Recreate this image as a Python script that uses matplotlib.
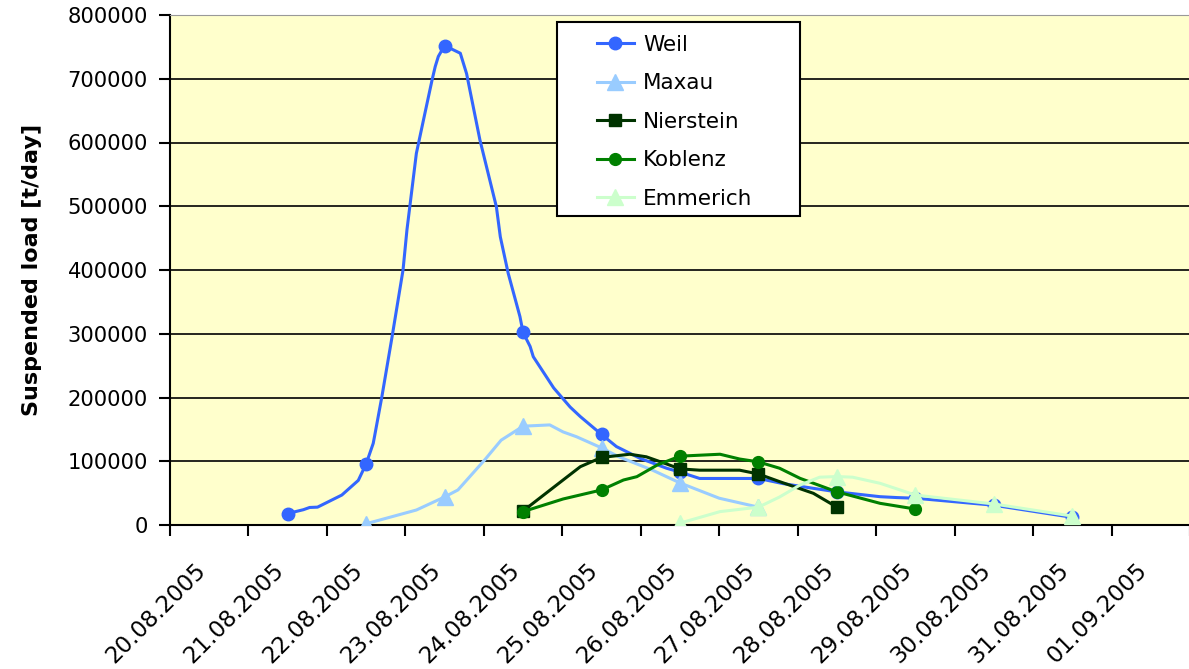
import matplotlib
matplotlib.use("Agg")
import matplotlib.pyplot as plt
from matplotlib.patches import Rectangle
from matplotlib.ticker import FuncFormatter
from matplotlib.transforms import ScaledTranslation

plt.rcParams.update({
    "font.family": ["DejaVu Sans"],
    "font.size": 14,
})

# category labels (one per day)
dates = ["20.08.2005", "21.08.2005", "22.08.2005", "23.08.2005", "24.08.2005",
         "25.08.2005", "26.08.2005", "27.08.2005", "28.08.2005", "29.08.2005",
         "30.08.2005", "31.08.2005", "01.09.2005"]

# day position (0 = 20.08.) and suspended load [t/day]
weil_x = [1.0, 1.2, 1.28, 1.38, 1.69, 1.9, 2.0, 2.09, 2.11, 2.2, 2.33, 2.47, 2.52,
          2.64, 2.73, 2.84, 2.88, 2.92, 3.0, 3.2, 3.28, 3.45, 3.66, 3.71, 3.81,
          3.96, 4.0, 4.09, 4.13, 4.39, 4.6, 4.73, 5.0, 5.19, 5.49, 5.83, 6.0,
          6.25, 7.0, 7.31, 7.7, 8.0, 8.55, 8.77, 9.0, 10.0, 11.0]
weil_y = [18000, 24000, 27500, 28000, 47000, 70000, 96000, 128000, 141000, 201000,
          295000, 400000, 463000, 583000, 635000, 698000, 719000, 735000, 752000,
          740000, 708000, 604000, 499000, 452000, 395000, 327000, 302000, 280000,
          264000, 215000, 185000, 170000, 142000, 123000, 104600, 89000, 83000,
          73000, 73000, 65000, 57500, 52000, 44400, 43000, 42000, 31000, 12000]

maxau_x = [2.0, 2.64, 3.0, 3.17, 3.51, 3.72, 4.0, 4.34, 4.51, 4.68, 5.0, 5.22,
           5.65, 6.0, 6.5, 7.0]
maxau_y = [2000, 23500, 44000, 55000, 102000, 133000, 155000, 157000, 146000,
           138500, 121000, 107000, 86000, 66000, 42000, 28000]

nier_x = [4.0, 4.51, 4.73, 5.0, 5.36, 5.57, 5.83, 6.0, 6.25, 6.76, 7.0, 7.27, 7.7, 8.0]
nier_y = [22000, 70600, 91500, 106000, 111000, 107000, 95700, 88000, 86000, 86000,
          80000, 68000, 49700, 28000]

kob_x = [4.0, 4.51, 5.0, 5.28, 5.45, 5.71, 6.0, 6.51, 6.76, 7.0, 7.27, 7.53, 8.0,
         8.55, 9.0]
kob_y = [21000, 40800, 55000, 70600, 75800, 94100, 108000, 111000, 103500, 99000,
         89000, 73200, 52000, 34000, 25000]

emm_x = [6.0, 6.51, 7.0, 7.27, 7.53, 7.78, 8.0, 8.2, 8.55, 9.0, 10.0, 11.0]
emm_y = [3000, 21000, 28000, 44000, 62700, 75000, 76000, 75000, 65400, 47000,
         33000, 14000]

series = [
    ("Weil", weil_x, weil_y, "#3366FF", "o", 9),
    ("Maxau", maxau_x, maxau_y, "#99CCFF", "^", 11),
    ("Nierstein", nier_x, nier_y, "#003300", "s", 8),
    ("Koblenz", kob_x, kob_y, "#008000", "o", 8.5),
    ("Emmerich", emm_x, emm_y, "#CCFFCC", "^", 11),
]

fig = plt.figure(figsize=(11.89, 6.69), dpi=100)
ax = fig.add_axes([170 / 1189, 1 - 525 / 669, 1020 / 1189, 510 / 669])
ax.set_facecolor("#FFFFCC")

for name, xs, ys, col, mk, ms in series:
    marks = [i for i, v in enumerate(xs) if float(v).is_integer()]
    ax.plot(xs, ys, color=col, lw=2.2, marker=mk, ms=ms, markevery=marks,
            mfc=col, mec=col, label=name, zorder=3, solid_joinstyle="round")

ax.set_xlim(-0.5, len(dates) - 0.5)
ax.set_ylim(0, 800000)
ax.set_yticks(range(0, 800001, 100000))
ax.yaxis.set_major_formatter(FuncFormatter(lambda v, p: f"{int(v)}"))
ax.grid(axis="y", color="black", lw=1.2, zorder=1)
ax.set_axisbelow(True)

# ticks on category boundaries, labels on category centres
ax.set_xticks([i - 0.5 for i in range(len(dates) + 1)])
ax.set_xticklabels([])
ax.set_xticks(range(len(dates)), minor=True)
ax.set_xticklabels(dates, minor=True, rotation=45, ha="right", va="center",
                   rotation_mode="anchor", fontsize=16.5)
ax.tick_params(axis="x", which="minor", length=0, pad=30)
ax.tick_params(axis="x", which="major", length=8, width=1.5, direction="out")
ax.tick_params(axis="y", length=8, width=1.5, direction="out", labelsize=15.2, pad=8)
shift = ScaledTranslation(-0.07, 0, fig.dpi_scale_trans)
for lbl in ax.get_xticklabels(minor=True):
    lbl.set_transform(lbl.get_transform() + shift)

for s in ["left", "bottom"]:
    ax.spines[s].set_linewidth(1.5)
ax.spines["right"].set_visible(False)
ax.spines["top"].set_color("#999999")

ax.set_ylabel("Suspended load [t/day]", fontsize=16, fontweight="bold")
ax.yaxis.set_label_coords(-0.125, 0.5)

# legend box
x0, x1 = (557 - 170) / 1020, (800 - 170) / 1020
y0, y1 = (525 - 216) / 510, (525 - 22) / 510
ax.add_patch(Rectangle((x0, y0), x1 - x0, y1 - y0, transform=ax.transAxes,
                       facecolor="white", edgecolor="black", lw=1.5, zorder=4))
leg = ax.legend(loc="upper left", bbox_to_anchor=((588 - 170) / 1020, (525 - 26) / 510),
                frameon=False, fontsize=15.5, handlelength=1.75, handletextpad=0.4,
                labelspacing=0.86, borderaxespad=0)
leg.set_zorder(5)

fig.savefig("out.png", dpi=100)
